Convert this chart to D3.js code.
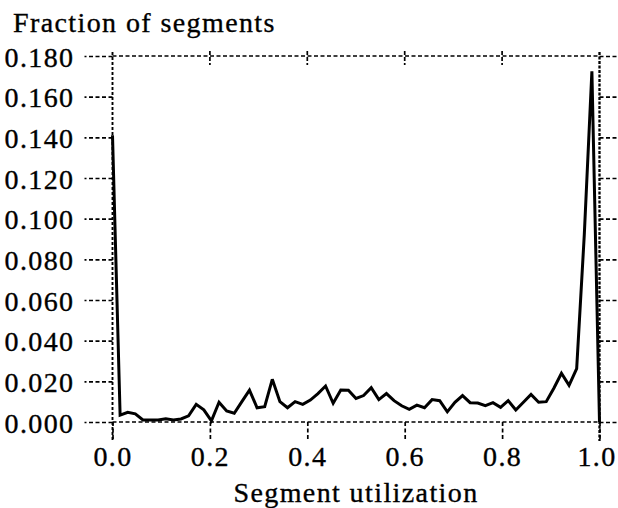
<!DOCTYPE html>
<html>
<head>
<meta charset="utf-8">
<script src="https://cdn.jsdelivr.net/npm/d3@7/dist/d3.min.js"></script>
<style>
  html, body { margin: 0; padding: 0; background: #fff; }
  svg { display: block; }
  text { font-family: "Liberation Serif", "Times New Roman", serif; fill: #000; stroke: #000; stroke-width: 0.35px; }
</style>
</head>
<body>
<svg id="chart" width="618" height="508"></svg>
<script>
// ---- data ----
const utilization = d3.range(0, 65).map(i => i / 64);
const fraction = [
  0.141, 0.0034, 0.0048, 0.0040, 0.0010, 0.0010, 0.0010, 0.0016, 0.0010, 0.0015,
  0.0030, 0.0087, 0.0060, 0.0006, 0.0097, 0.0054, 0.0043, 0.0100, 0.0157, 0.0070,
  0.0075, 0.0210, 0.0100, 0.0070, 0.0100, 0.0087, 0.0108, 0.0140, 0.0177, 0.0092,
  0.0157, 0.0156, 0.0116, 0.0130, 0.0169, 0.0110, 0.0140, 0.0105, 0.0080, 0.0062,
  0.0083, 0.0070, 0.0110, 0.0105, 0.0050, 0.0097, 0.0130, 0.0095, 0.0093, 0.0080,
  0.0095, 0.0072, 0.0105, 0.0059, 0.0097, 0.0136, 0.0097, 0.0100, 0.0166, 0.0240,
  0.0180, 0.0262, 0.0920, 0.1725, 0.0
];
const xTicks = [0, 0.2, 0.4, 0.6, 0.8, 1.0];
const yTicks = [0, 0.02, 0.04, 0.06, 0.08, 0.10, 0.12, 0.14, 0.16, 0.18];
const yTitle = "Fraction of segments";
const xTitle = "Segment utilization";

// ---- layout ----
const svg = d3.select("#chart");
const mLeft = 112.5, mRight = 599.5, mTop = 56, mBottom = 422;
const x = d3.scaleLinear().domain([0, 1]).range([mLeft, mRight]);
const y = d3.scaleLinear().domain([0, 0.18]).range([mBottom, mTop]);

const dash = "4,2.5";
const fontSize = 28;
const ls = "1.4px";

// left axis with labels
const gL = svg.append("g").attr("transform", `translate(${mLeft},0)`)
  .call(d3.axisLeft(y).tickValues(yTicks).tickFormat(d3.format(".3f"))
        .tickSize(28).tickPadding(10));
gL.select(".domain").remove();
gL.selectAll(".tick line").attr("stroke", "#000").attr("stroke-width", 1.7)
  .attr("stroke-dasharray", dash);
gL.selectAll(".tick text").attr("font-size", fontSize).style("letter-spacing", ls)
  .attr("dy", "0.36em");

// right axis ticks
const gR = svg.append("g").attr("transform", `translate(${mRight},0)`)
  .call(d3.axisRight(y).tickValues(yTicks).tickFormat("").tickSize(22));
gR.select(".domain").remove();
gR.selectAll(".tick line").attr("stroke", "#000").attr("stroke-width", 1.7)
  .attr("stroke-dasharray", dash);

// bottom axis
const gB = svg.append("g").attr("transform", `translate(0,${mBottom})`)
  .call(d3.axisBottom(x).tickValues(xTicks).tickFormat(d3.format(".1f"))
        .tickSize(19).tickPadding(4));
gB.select(".domain").remove();
gB.selectAll(".tick line").attr("stroke", "#000").attr("stroke-width", 1.7)
  .attr("stroke-dasharray", dash);
gB.selectAll(".tick text").attr("font-size", fontSize).style("letter-spacing", ls)
  .attr("dy", "21px")
  .attr("dx", d => d === 1 ? -3 : 0);

// top ticks crossing the frame
svg.append("g").selectAll("line").data(xTicks.slice(1, -1)).join("line")
  .attr("x1", d => x(d)).attr("x2", d => x(d))
  .attr("y1", y(0.18) - 5).attr("y2", y(0.18) + 9)
  .attr("stroke", "#000").attr("stroke-width", 1.7).attr("stroke-dasharray", "4,2");

// frame (dashed)
const frame = svg.append("g").attr("fill", "none").attr("stroke", "#000");
frame.append("line").attr("x1", x(0)).attr("x2", x(1)).attr("y1", y(0.18)).attr("y2", y(0.18))
  .attr("stroke-width", 1.7).attr("stroke-dasharray", dash);
frame.append("line").attr("x1", x(0)).attr("x2", x(1)).attr("y1", y(0)).attr("y2", y(0))
  .attr("stroke-width", 1.7).attr("stroke-dasharray", dash);
frame.append("line").attr("x1", x(0)).attr("x2", x(0)).attr("y1", y(0.18) - 4).attr("y2", y(0) + 19)
  .attr("stroke-width", 1.9).attr("stroke-dasharray", "3,2");
frame.append("line").attr("x1", x(1)).attr("x2", x(1)).attr("y1", y(0.18) - 4).attr("y2", y(0) + 19)
  .attr("stroke-width", 2.3).attr("stroke-dasharray", "3,1.5");

// data line
const line = d3.line().x((d, i) => x(utilization[i])).y(d => y(d));
svg.append("path").datum(fraction)
  .attr("d", line).attr("fill", "none").attr("stroke", "#000")
  .attr("stroke-width", 3).attr("stroke-linejoin", "miter").attr("stroke-miterlimit", 3);

// titles
svg.append("text").attr("x", 13).attr("y", 32).attr("font-size", fontSize)
  .style("letter-spacing", ls).text(yTitle);
svg.append("text").attr("x", (mLeft + mRight) / 2).attr("y", 502).attr("text-anchor", "middle")
  .attr("font-size", fontSize).style("letter-spacing", ls).text(xTitle);
</script>
</body>
</html>
